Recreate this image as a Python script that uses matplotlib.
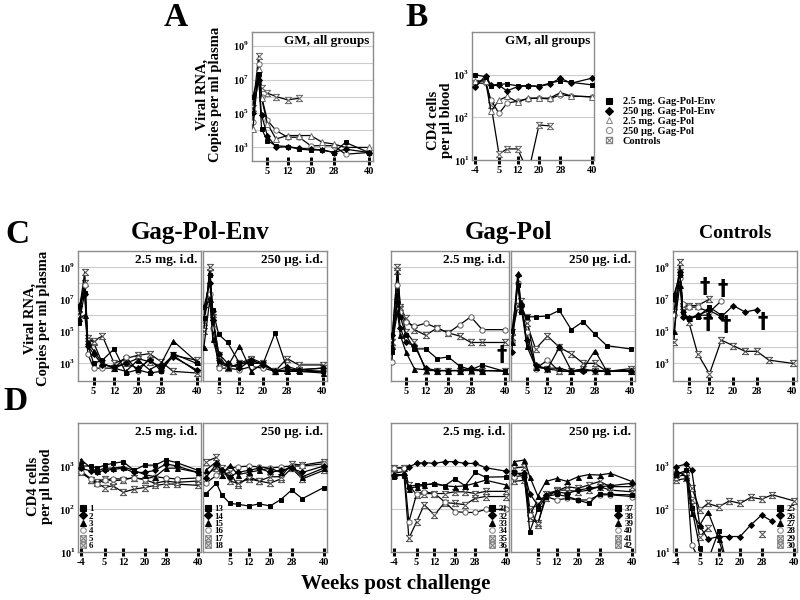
import numpy as np
import matplotlib
matplotlib.use('Agg')
import matplotlib.pyplot as plt
from matplotlib.path import Path
from matplotlib.lines import Line2D
from matplotlib.ticker import NullLocator

plt.rcParams['font.family'] = 'Liberation Serif'
plt.rcParams['font.weight'] = 'bold'
plt.rcParams['mathtext.fontset'] = 'custom'
plt.rcParams['mathtext.rm'] = 'Liberation Serif:bold'
plt.rcParams['mathtext.bf'] = 'Liberation Serif:bold'
plt.rcParams['axes.unicode_minus'] = False

nan = np.nan

# sampling weeks
wk_rna = [0, 2, 3, 5, 8, 12, 16, 20, 24, 28, 32, 40]
wk_cd4 = [-4, 0, 2, 5, 8, 12, 16, 20, 24, 28, 32, 40]

# all values are log10 (copies/ml or cells/ul)
group_names = ['2.5 mg. Gag-Pol-Env', '250 µg. Gag-Pol-Env', '2.5 mg. Gag-Pol',
               '250 µg. Gag-Pol', 'Controls']

gm_rna = [
    [6.0, 7.3, 4.1, 3.4, 3.1, 3.05, 2.9, 2.85, 2.85, 2.7, 3.3, 2.7],
    [5.0, 7.0, 4.9, 3.7, 3.0, 3.05, 2.95, 2.9, 2.85, 2.7, 2.9, 2.7],
    [4.1, 7.6, 5.9, 4.4, 3.5, 3.7, 3.7, 3.7, 3.3, 3.2, 3.0, 3.0],
    [4.5, 7.9, 6.0, 4.6, 4.0, 3.6, 3.6, 3.1, 3.1, 3.1, 2.6, 2.7],
    [5.3, 8.4, 6.5, 6.2, 6.0, 5.8, 5.9, nan, nan, nan, nan, nan],
]

gm_cd4 = [
    [3.0, 2.95, 2.74, 2.78, 2.78, 2.74, 2.74, 2.73, 2.8, 2.86, 2.82, 2.76],
    [2.7, 2.98, 2.75, 2.75, 2.62, 2.72, 2.74, 2.72, 2.78, 2.92, 2.8, 2.92],
    [2.85, 2.85, 2.14, 2.4, 2.49, 2.36, 2.45, 2.45, 2.45, 2.58, 2.5, 2.48],
    [2.8, 2.8, 2.41, 2.09, 2.33, 2.38, 2.44, 2.45, 2.43, 2.53, 2.5, 2.48],
    [2.8, 2.9, 2.3, 1.14, 1.26, 1.26, 0.7, 1.82, 1.8, nan, nan, nan],
]

# Gag-Pol-Env 2.5 mg (animals 1-6)
ids_1 = ['1', '2', '3', '4', '5', '6']
rna_1 = [
    [5.5, 7.4, 4.2, 3.0, 3.2, 3.9, 2.4, 2.6, 2.4, 2.5, 3.6, 3.0],
    [6.6, 7.3, 4.1, 3.6, 2.9, 2.8, 3.0, 2.7, 3.2, 2.7, 3.4, 2.6],
    [5.8, 6.0, 4.3, 3.8, 3.0, 2.7, 2.5, 3.2, 2.6, 3.0, 4.4, 3.1],
    [5.9, 7.9, 3.6, 2.7, 2.7, 2.7, 3.4, 2.5, 3.3, 2.5, 3.5, 2.5],
    [6.1, 8.7, 4.4, 4.4, 4.7, 3.0, 3.3, 3.5, 3.6, 3.1, 2.5, 2.4],
    [6.4, 8.0, 4.6, 4.3, 3.0, 2.7, 3.0, 3.3, 3.1, 2.8, 3.5, 3.2],
]
cd4_1 = [
    [3.0, 3.0, 2.95, 3.02, 3.06, 3.1, 2.9, 3.02, 3.02, 3.14, 3.08, 2.9],
    [2.95, 2.88, 2.85, 2.9, 2.92, 2.95, 2.85, 2.85, 2.9, 3.05, 3.0, 2.85],
    [3.15, 2.95, 2.88, 2.95, 2.95, 2.98, 2.9, 2.8, 2.75, 2.95, 2.95, 2.85],
    [2.85, 2.7, 2.58, 2.68, 2.7, 2.7, 2.72, 2.7, 2.75, 2.72, 2.7, 2.72],
    [2.9, 2.68, 2.63, 2.7, 2.65, 2.68, 2.73, 2.68, 2.6, 2.65, 2.62, 2.65],
    [2.85, 2.68, 2.6, 2.5, 2.54, 2.39, 2.46, 2.5, 2.55, 2.58, 2.58, 2.55],
]

# Gag-Pol-Env 250 ug (animals 13-18)
ids_13 = ['13', '14', '15', '16', '17', '18']
rna_13 = [
    [5.8, 8.5, 6.3, 4.8, 4.3, 3.0, 3.0, 3.0, 4.9, 2.7, 2.5, 2.5],
    [6.5, 8.0, 5.7, 3.6, 3.0, 2.7, 3.2, 2.9, 2.5, 2.8, 2.6, 2.7],
    [4.0, 7.0, 4.5, 3.2, 2.8, 4.1, 2.5, 3.0, 2.5, 2.5, 2.5, 2.4],
    [5.9, 7.3, 5.2, 2.7, 2.7, 2.6, 2.8, 2.7, 2.5, 2.5, 2.6, 2.5],
    [5.0, 9.0, 6.1, 3.5, 2.7, 3.0, 3.3, 3.0, 2.5, 3.3, 2.9, 2.9],
    [5.6, 8.7, 5.9, 3.0, 2.8, 2.9, 3.2, 2.9, 2.5, 2.6, 2.6, 2.7],
]
cd4_13 = [
    [2.35, 2.6, 2.33, 2.13, 2.11, 2.07, 2.12, 2.07, 2.22, 2.44, 2.24, 2.5],
    [2.72, 3.05, 2.9, 2.75, 2.85, 2.9, 2.95, 2.85, 2.9, 2.95, 2.85, 3.0],
    [2.9, 3.1, 2.8, 3.02, 2.8, 2.85, 2.9, 2.95, 2.85, 3.0, 2.75, 2.95],
    [2.6, 2.78, 2.85, 2.95, 2.98, 3.0, 2.98, 2.95, 2.98, 3.0, 3.0, 3.05],
    [3.1, 3.2, 2.95, 2.65, 2.6, 2.7, 2.65, 2.75, 2.75, 3.05, 3.02, 3.1],
    [2.8, 2.95, 2.8, 2.85, 2.55, 2.75, 2.65, 2.6, 2.7, 2.95, 2.7, 2.9],
]

# Gag-Pol 2.5 mg (animals 31-36)
ids_31 = ['31', '32', '33', '34', '35', '36']
rna_31 = [
    [3.7, 7.25, 5.9, 4.75, 3.9, 3.9, 3.3, 3.4, 2.83, 2.6, 2.9, 2.5],
    [4.75, 6.8, 5.2, 4.3, 4.1, 2.7, 2.55, 2.55, 2.55, 2.7, 2.55, nan],
    [4.1, 6.2, 4.75, 3.7, 2.67, 2.6, 2.55, 2.55, 2.55, 2.6, 2.55, 2.5],
    [3.08, 7.9, 6.2, 5.6, 5.3, 5.5, 5.2, 4.9, 5.4, 5.9, 5.1, 5.1],
    [4.3, 9.0, 6.5, 5.8, 5.1, 4.75, 5.2, 4.9, 4.7, 4.3, 4.3, 4.3],
    [4.3, 8.75, 6.4, 4.95, 4.3, 2.55, 2.55, 2.55, 2.55, 2.55, 2.55, 2.55],
]
cd4_31 = [
    [2.75, 2.8, 2.52, 2.56, 2.57, 2.58, 2.54, 2.7, 2.54, 2.85, 2.74, 2.75],
    [2.8, 2.8, 2.98, 3.06, 3.08, 3.06, 3.1, 3.1, 3.06, 3.06, 2.96, 2.88],
    [2.8, 2.8, 2.47, 2.52, 2.55, 2.6, 2.54, 2.52, 2.54, 2.6, 2.67, 2.56],
    [2.95, 2.96, 1.7, 2.34, 2.4, 2.36, 2.17, 1.94, 1.92, 1.92, 1.99, 1.99],
    [2.95, 2.96, 2.56, 2.33, 2.36, 2.36, 2.36, 2.4, 2.4, 2.36, 2.41, 2.41],
    [2.83, 2.87, 1.32, 1.7, 2.1, 1.86, 2.15, 2.13, 2.1, 2.25, 2.29, 2.29],
]

# Gag-Pol 250 ug (animals 37-42)
ids_37 = ['37', '38', '39', '40', '41', '42']
rna_37 = [
    [5.0, 7.9, 6.2, 5.9, 5.9, 5.95, 6.3, 5.1, 5.6, 4.8, 4.1, 3.9],
    [3.7, 8.5, 6.6, 4.45, 2.9, 2.65, 4.0, 2.55, 2.55, 2.55, 2.5, 2.55],
    [4.3, 8.6, 6.8, 4.1, 2.77, 2.7, 2.7, 2.5, 2.65, 3.8, 2.5, 2.55],
    [4.3, 8.0, 6.6, 4.95, 2.67, 3.2, 2.5, 2.5, 2.5, 2.6, 2.5, 2.5],
    [4.95, 6.6, 6.9, 5.5, 3.9, 4.7, 4.0, 3.6, 3.0, 3.0, 2.5, 2.5],
    [4.65, 6.6, 6.4, 5.9, 2.77, 2.65, 2.55, 2.5, 2.67, 2.5, 2.5, 2.67],
]
cd4_37 = [
    [2.87, 2.75, 1.47, 2.0, 2.29, 2.34, 2.29, 2.21, 2.13, 2.36, 2.34, 2.33],
    [2.83, 2.83, 2.36, 2.08, 2.33, 2.4, 2.36, 2.44, 2.48, 2.52, 2.54, 2.6],
    [3.1, 3.14, 2.75, 2.3, 2.64, 2.71, 2.64, 2.75, 2.8, 2.79, 2.83, 2.64],
    [2.75, 2.78, 1.86, 2.21, 2.29, 2.21, 2.25, 2.21, 2.21, 2.33, 2.33, 2.29],
    [2.95, 2.98, 2.0, 1.63, 2.36, 2.42, 2.52, 2.48, 2.56, 2.64, 2.52, 2.52],
    [2.64, 2.67, 1.78, 1.67, 2.25, 2.44, 2.44, 2.4, 2.44, 2.52, 2.44, 2.4],
]

# Controls (animals 25-30)
ids_25 = ['25', '26', '27', '28', '29', '30']
rna_25 = [
    [7.25, 8.5, 6.2, 5.8, 5.9, 6.5, 6.0, nan, nan, nan, nan, nan],
    [7.0, 8.7, 5.9, 5.8, 6.0, 6.3, 5.9, 6.6, 6.2, 6.35, nan, nan],
    [5.0, 7.9, 6.0, 5.8, 6.0, 6.0, nan, nan, nan, nan, nan, nan],
    [6.0, 8.3, 6.7, 6.5, 6.5, 6.2, 6.9, nan, nan, nan, nan, nan],
    [6.2, 8.7, 6.6, 6.6, 6.6, 7.0, nan, nan, nan, nan, nan, nan],
    [4.33, 9.33, 6.4, 5.6, 3.6, 2.35, 4.45, 4.1, 3.75, 3.75, 3.2, 3.0],
]
cd4_25 = [
    [2.8, 2.9, 2.02, 1.1, 0.8, 1.48, 0.5, nan, nan, nan, nan, nan],
    [2.98, 3.05, 2.9, 1.6, 1.3, 1.36, 1.36, 1.36, 1.63, 1.86, 1.71, nan],
    [2.9, 2.75, 1.9, 1.63, 1.94, 1.3, 0.5, nan, nan, nan, nan, nan],
    [2.83, 2.83, 1.16, 0.8, nan, nan, nan, nan, nan, nan, nan, nan],
    [2.75, 2.8, 2.2, 1.36, 1.55, nan, nan, nan, nan, 1.41, nan, nan],
    [2.67, 2.71, 2.5, 1.98, 2.13, 2.05, 2.19, 2.13, 2.27, 2.23, 2.33, 2.19],
]
# deaths (week, log10 copies)
dagger_31 = [(39, 3.5)]
dagger_25 = [(10.5, 7.75), (16.4, 7.65), (11.5, 5.5), (17.6, 5.4), (30, 5.6)]

# markers
HG = Path([(-1, 1), (1, 1), (-1, -1), (1, -1), (-1, 1)],
          [Path.MOVETO, Path.LINETO, Path.LINETO, Path.LINETO, Path.CLOSEPOLY])
BOXX = Path([(-1, -1), (1, -1), (1, 1), (-1, 1), (-1, -1),
             (-1, -1), (1, 1), (-1, 1), (1, -1)],
            [Path.MOVETO, Path.LINETO, Path.LINETO, Path.LINETO, Path.CLOSEPOLY,
             Path.MOVETO, Path.LINETO, Path.MOVETO, Path.LINETO])

animal_marks = [('s', 'k', 'k', 3.2), ('D', 'k', 'k', 3.0), ('^', 'k', 'k', 3.6),
                ('o', 'white', '0.35', 3.8), (HG, 'white', '0.3', 4.5), (HG, 'white', '0.3', 4.5)]
group_marks = [('s', 'k', 'k', 3.2), ('D', 'k', 'k', 3.0), ('^', 'white', '0.4', 3.8),
               ('o', 'white', '0.4', 3.8), (HG, 'white', '0.4', 4.5)]
animal_leg = [('s', 'k', 'k'), ('D', 'k', 'k'), ('^', 'k', 'k'),
              ('o', 'white', '0.55'), (BOXX, 'none', '0.5'), (BOXX, 'none', '0.5')]
group_leg = [('s', 'k', 'k'), ('D', 'k', 'k'), ('^', 'white', '0.55'),
             ('o', 'white', '0.55'), (BOXX, 'none', '0.5')]

fig = plt.figure(figsize=(8, 6), dpi=100)


def box(x0, x1, y0, y1):
    return [x0 / 800, 1 - y1 / 600, (x1 - x0) / 800, (y1 - y0) / 600]


def setup(ax, kind, xticks, ylab=True):
    ax.set_yscale('log')
    if kind == 'rna':
        ax.set_xlim(-0.3, 41.5)
        yt = [1e3, 1e5, 1e7, 1e9]
        labs = [r'$10^{3}$', r'$10^{5}$', r'$10^{7}$', r'$10^{9}$']
        grid = 10.0 ** np.arange(3, 10)
    else:
        ax.set_xlim(-5, 41.2)
        ax.set_ylim(10, 1e4)
        yt = [10, 100, 1000]
        labs = [r'$10^{1}$', r'$10^{2}$', r'$10^{3}$']
        grid = [100, 1000]
    for g in grid:
        ax.axhline(g, color='0.8', lw=0.8, zorder=0)
    ax.set_yticks(yt)
    ax.set_yticklabels(labs)
    ax.yaxis.set_minor_locator(NullLocator())
    ax.tick_params(axis='y', length=0, labelsize=7.5, pad=2, labelleft=ylab)
    ax.set_xticks(xticks)
    ax.set_xticklabels([str(t) for t in xticks])
    ax.tick_params(axis='x', direction='inout', length=6, width=2.2, labelsize=7.5, pad=1)
    for s in ax.spines.values():
        s.set_color('0.55')
        s.set_linewidth(1.0)


def draw(ax, t, rows, marks):
    for i, (y, (m, fc, ec, ms)) in enumerate(zip(rows, marks)):
        ax.plot(t, 10 ** np.array(y, dtype=float), color='k', lw=0.9, marker=m, ms=ms,
                mfc=fc, mec=ec, mew=0.7, zorder=3 + i)


def legend(ax, labels, marks, loc):
    hs = [Line2D([], [], ls='none', marker=m, ms=4, mfc=fc, mec=ec, mew=0.8)
          for m, fc, ec in marks]
    ax.legend(hs, labels, loc=loc, frameon=False, fontsize=6.5, handlelength=0.7,
              handletextpad=0.3, labelspacing=-0.1, borderpad=0.1, borderaxespad=0.1)


def title(ax, s):
    ax.text(0.97, 0.975, s, transform=ax.transAxes, ha='right', va='top', fontsize=9.5)


# A
axA = fig.add_axes(box(252, 373, 32, 161))
setup(axA, 'rna', [5, 12, 20, 28, 40])
axA.set_ylim(10 ** 2.2, 10 ** 9.8)
draw(axA, wk_rna, gm_rna[::-1], group_marks[::-1])
title(axA, 'GM, all groups')

# B
axB = fig.add_axes(box(472, 594, 32, 160))
setup(axB, 'cd4', [-4, 5, 12, 20, 28, 40])
axB.set_xlim(-5.1, 40.6)
draw(axB, wk_cd4, gm_cd4[::-1], group_marks[::-1])
title(axB, 'GM, all groups')
hs = [Line2D([], [], ls='none', marker=m, ms=4.5, mfc=fc, mec=ec, mew=0.8)
      for m, fc, ec in group_leg]
fig.legend(hs, group_names, loc='upper left', bbox_to_anchor=(600 / 800, 1 - 92 / 600),
           frameon=False, fontsize=7.5, handlelength=0.8, handletextpad=0.9,
           labelspacing=0.05, borderpad=0)

# C and D rows
cols = [(78, 201), (203, 327), (391, 509), (511, 635), (673, 797)]
rna_sets = [rna_1, rna_13, rna_31, rna_37, rna_25]
cd4_sets = [cd4_1, cd4_13, cd4_31, cd4_37, cd4_25]
id_sets = [ids_1, ids_13, ids_31, ids_37, ids_25]
titles = ['2.5 mg. i.d.', '250 µg. i.d.', '2.5 mg. i.d.', '250 µg. i.d.', None]
left_lab = [True, False, True, False, True]
leg_loc = ['lower left', 'lower left', 'lower right', 'lower right', 'lower right']

for k, (x0, x1) in enumerate(cols):
    axc = fig.add_axes(box(x0, x1, 251, 381))
    setup(axc, 'rna', [5, 12, 20, 28, 40], ylab=(k in (0, 4)))
    axc.set_ylim(10 ** 1.9, 10 ** 10)
    draw(axc, wk_rna, rna_sets[k][::-1], animal_marks[::-1])
    if titles[k]:
        title(axc, titles[k])

    axd = fig.add_axes(box(x0, x1, 423, 552))
    xt = [-4, 5, 12, 20, 28, 40] if left_lab[k] else [5, 12, 20, 28, 40]
    setup(axd, 'cd4', xt, ylab=(k in (0, 4)))
    draw(axd, wk_cd4, cd4_sets[k][::-1], animal_marks[::-1])
    if titles[k]:
        title(axd, titles[k])
    legend(axd, id_sets[k], animal_leg, leg_loc[k])

    daggers = dagger_31 if k == 2 else dagger_25 if k == 4 else []
    for w, v in daggers:
        axc.text(w, 10 ** v, '†', ha='center', va='center', fontsize=15,
                 family='DejaVu Sans', weight='bold', zorder=10)

# labels
fig.text(176 / 800, 1 - 17 / 600, 'A', fontsize=24, ha='center', va='center')
fig.text(417 / 800, 1 - 17 / 600, 'B', fontsize=24, ha='center', va='center')
fig.text(17 / 800, 1 - 235 / 600, 'C', fontsize=24, ha='center', va='center')
fig.text(16 / 800, 1 - 401 / 600, 'D', fontsize=24, ha='center', va='center')
fig.text(200 / 800, 1 - 232 / 600, 'Gag-Pol-Env', fontsize=18, ha='center', va='center')
fig.text(508 / 800, 1 - 232 / 600, 'Gag-Pol', fontsize=18, ha='center', va='center')
fig.text(735 / 800, 1 - 233 / 600, 'Controls', fontsize=14, ha='center', va='center')
fig.text(396 / 800, 1 - 584 / 600, 'Weeks post challenge', fontsize=15, ha='center', va='center')

fig.text(209 / 800, 1 - 94 / 600, 'Viral RNA,\nCopies per ml plasma', rotation=90,
         fontsize=10.5, ha='center', va='center', multialignment='center', linespacing=1.0)
fig.text(440 / 800, 1 - 120 / 600, 'CD4 cells\nper µl blood', rotation=90,
         fontsize=10.5, ha='center', va='center', multialignment='center', linespacing=1.0)
fig.text(37 / 800, 1 - 318 / 600, 'Viral RNA,\nCopies per ml plasma', rotation=90,
         fontsize=10.5, ha='center', va='center', multialignment='center', linespacing=1.0)
fig.text(40 / 800, 1 - 486 / 600, 'CD4 cells\nper µl blood', rotation=90,
         fontsize=10.5, ha='center', va='center', multialignment='center', linespacing=1.0)

fig.savefig('out.png', dpi=100)
